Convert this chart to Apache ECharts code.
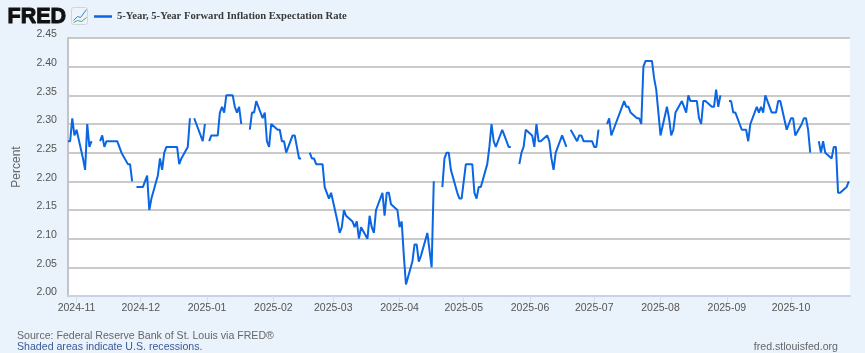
<!DOCTYPE html>
<html>
<head>
<meta charset="utf-8">
<script src="https://cdn.jsdelivr.net/npm/echarts@6/dist/echarts.min.js"></script>
<style>html,body{margin:0;padding:0;background:#eaf2fb}#c{width:865px;height:353px}</style>
</head>
<body>
<div id="c"></div>
<script>
// Weekly rows, Monday to Friday, starting on Monday 2024-10-28. null = no observation (market holiday).
const firstDate = [2024, 9, 28];
const weeklyValues = [
  2.27,2.27,2.31,2.28,2.29,
  2.24,2.22,2.30,2.26,2.27,
  null,2.27,2.28,2.26,2.27,
  2.27,2.27,2.27,2.26,2.25,
  2.23,2.23,2.20,null,2.19,
  2.19,2.20,2.21,2.15,2.17,
  2.21,2.24,2.22,2.25,2.26,
  2.26,2.26,2.26,2.23,2.24,
  2.26,2.31,null,2.31,2.30,
  2.27,2.30,null,2.27,2.28,
  2.28,2.32,2.33,2.32,2.35,
  2.35,2.33,2.32,2.33,2.30,
  null,2.29,2.32,2.32,2.34,
  2.31,2.32,2.27,2.26,2.30,
  2.29,2.29,2.27,2.27,2.25,
  2.28,2.28,2.26,2.24,2.24,
  null,2.25,2.24,2.24,2.23,
  2.23,2.19,2.18,2.17,2.18,
  2.13,2.11,2.12,2.15,2.14,
  2.13,2.12,2.13,2.10,2.12,
  2.10,2.14,2.12,2.11,2.15,
  2.18,2.14,2.18,2.18,2.16,
  2.15,2.12,2.13,2.07,2.02,
  2.06,2.09,2.09,2.06,2.07,
  2.11,2.08,2.05,2.20,null,
  2.19,2.24,2.25,2.25,2.22,
  2.18,2.17,2.17,2.20,2.23,
  2.23,2.18,2.17,2.19,2.19,
  2.23,2.26,2.30,2.27,2.26,
  2.29,2.28,2.27,2.26,2.26,
  null,2.23,2.25,2.26,2.29,
  2.28,2.26,2.30,2.27,2.27,
  2.28,2.27,2.24,2.22,2.25,
  2.28,2.27,2.26,null,2.29,
  2.27,2.28,2.28,2.27,2.27,
  2.27,2.26,2.26,2.29,null,
  2.30,2.31,2.28,2.29,2.30,
  2.33,2.34,2.33,2.33,2.32,
  2.31,2.31,2.30,2.40,2.41,
  2.41,2.38,2.36,2.32,2.28,
  2.33,2.31,2.28,2.29,2.32,
  2.34,2.33,2.32,2.35,2.34,
  2.34,2.31,2.30,2.34,2.34,
  2.33,2.33,2.36,2.33,2.35,
  null,2.34,2.34,2.32,2.32,
  2.29,2.29,2.29,2.27,2.30,
  2.33,2.32,2.33,2.32,2.35,
  2.32,2.32,2.32,2.34,2.34,
  2.29,2.30,2.31,2.31,2.28,
  2.30,2.31,2.31,2.29,2.25,
  null,2.27,2.25,2.27,2.25,
  2.24,2.26,2.26,2.18,2.18,
  2.19,2.20
];
const xTickLabels = ['2024-11','2024-12','2025-01','2025-02','2025-03','2025-04','2025-05','2025-06','2025-07','2025-08','2025-09','2025-10'];
const seriesName = '5-Year, 5-Year Forward Inflation Expectation Rate';

const seriesData = [];
{
  let day = new Date(firstDate[0], firstDate[1], firstDate[2]);
  for (const v of weeklyValues) {
    while (day.getDay() === 0 || day.getDay() === 6) day.setDate(day.getDate() + 1);
    seriesData.push([day.getTime(), v]);
    day.setDate(day.getDate() + 1);
  }
}
const tickTimes = xTickLabels.map(s => { const p = s.split('-'); return new Date(+p[0], +p[1] - 1, 1).getTime(); });
const axisMin = new Date(2024, 9, 28).getTime();
const axisMax = new Date(2025, 9, 28, 14).getTime();
const pad = n => String(n).padStart(2, '0');

const chart = echarts.init(document.getElementById('c'), null, {renderer: 'canvas'});
chart.setOption({
  animation: false,
  backgroundColor: '#eaf2fb',
  grid: {left: 68, right: 15, top: 38, bottom: 57, backgroundColor: '#ffffff', show: true, borderWidth: 0, outerBoundsMode: 'none'},
  legend: {
    left: 94, top: 11, itemWidth: 18, itemHeight: 2.5, itemGap: 4, icon: 'rect', padding: 0,
    data: [seriesName],
    textStyle: {fontFamily: '"Liberation Serif"', fontWeight: 'bold', fontSize: 10.6, color: '#3a3a3a'}
  },
  xAxis: {
    type: 'value', min: axisMin, max: axisMax,
    splitLine: {show: false},
    axisLine: {show: true, lineStyle: {color: '#c5d3e4', width: 2}},
    axisTick: {show: true, length: 7, inside: false, lineStyle: {color: '#d3deeb', width: 1}, customValues: tickTimes},
    axisLabel: {
      color: '#555555', fontSize: 10.5, fontFamily: '"Liberation Sans"', margin: 7,
      showMinLabel: true, showMaxLabel: true, hideOverlap: false,
      customValues: tickTimes,
      formatter: v => { const d = new Date(v); return d.getFullYear() + '-' + pad(d.getMonth() + 1); }
    }
  },
  yAxis: {
    type: 'value', min: 2, max: 2.45, interval: 0.05,
    name: 'Percent', nameLocation: 'middle', nameGap: 45, nameMoveOverlap: false,
    nameTextStyle: {color: '#666666', fontSize: 12, fontFamily: '"Liberation Sans"'},
    axisLine: {show: true, lineStyle: {color: '#c4c4c4', width: 2}},
    axisTick: {show: false},
    splitLine: {show: true, lineStyle: {color: '#b9b9b9', width: 1.5}},
    axisLabel: {
      color: '#555555', fontSize: 10.6, fontFamily: '"Liberation Sans"', margin: 11,
      verticalAlign: 'bottom', lineHeight: 7, formatter: v => v.toFixed(2)
    }
  },
  series: [{
    name: seriesName, type: 'line', data: seriesData, showSymbol: false, symbol: 'none',
    connectNulls: false, clip: true,
    lineStyle: {color: '#0a66e2', width: 2}, itemStyle: {color: '#0a66e2'}
  }],
  graphic: [
    {type: 'text', left: 7, top: 6, style: {text: 'FRED', font: '900 21.5px "Liberation Sans"', fill: '#111111', stroke: '#111111', lineWidth: 1}},
    {type: 'group', left: 71, top: 7, children: [
      {type: 'rect', shape: {x: 0, y: 0, width: 16, height: 17, r: 2}, style: {fill: '#eef3f8', stroke: '#cfd6de', lineWidth: 1}},
      {type: 'polyline', shape: {points: [[2, 13], [6, 9], [9, 10], [15, 2]]}, style: {stroke: '#2f7de1', fill: null, lineWidth: 1}},
      {type: 'polyline', shape: {points: [[2, 15], [6, 13], [10, 14], [15, 10]]}, style: {stroke: '#4aa88a', fill: null, lineWidth: 1}}
    ]},
    {type: 'text', left: 17, top: 331, style: {text: 'Source: Federal Reserve Bank of St. Louis via FRED®', font: '10.6px "Liberation Sans"', fill: '#666666'}},
    {type: 'text', left: 17, top: 342, style: {text: 'Shaded areas indicate U.S. recessions.', font: '10.6px "Liberation Sans"', fill: '#3a5a98'}},
    {type: 'text', right: 27, top: 342, style: {text: 'fred.stlouisfed.org', font: '10.6px "Liberation Sans"', fill: '#666666'}}
  ]
});
</script>
</body>
</html>
